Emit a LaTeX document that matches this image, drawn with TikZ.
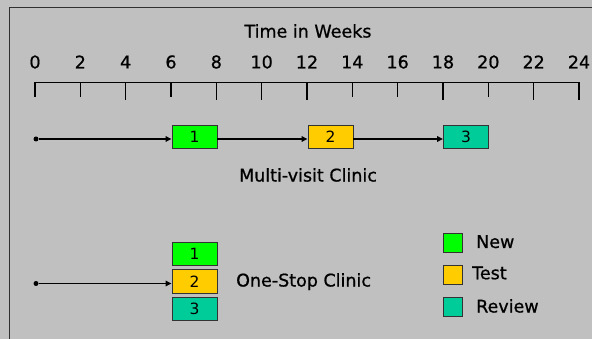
\documentclass[tikz,border=0pt]{standalone}
\usepackage{fontspec}
\setmainfont{DejaVu Sans}
\newfontfamily\heavy{DejaVu Sans}[FakeBold=0.8]
\usetikzlibrary{arrows.meta}
\definecolor{bg}{HTML}{C0C0C0}
\definecolor{cnew}{HTML}{00FF00}
\definecolor{ctest}{HTML}{FFCC00}
\definecolor{crev}{HTML}{00CC99}
\definecolor{frame}{HTML}{303030}
\tikzset{
  stage/.style={draw=black!80, line width=0.9pt, minimum width=45pt, minimum height=23.5pt, inner sep=0pt, font=\fontsize{15.5}{15.5}\selectfont},
  legbox/.style={draw=black!80, line width=0.9pt, minimum width=19pt, minimum height=19pt, inner sep=0pt},
  lbl/.style={font=\heavy\fontsize{17.5}{18}\selectfont, inner sep=0pt},
  flow/.style={line width=1.8pt, -{Triangle[length=6pt,width=5.5pt]}},
  dotnode/.style={circle, fill=black, inner sep=0pt, minimum size=5pt},
}
\begin{document}
\begin{tikzpicture}[x=1pt,y=-1pt]
\fill[bg] (0,0) rectangle (592,339);
\useasboundingbox (0,0) rectangle (592,339);
% frame
\draw[frame, line width=1.5pt] (9.5,339) -- (9.5,7.5) -- (592,7.5);
% title
\node[lbl] (title) at (308,31) {Time in Weeks};
% axis
\coordinate (ax0) at (35,82.5);
\coordinate (ax24) at (579,82.5);
\draw[line width=1.5pt] (ax0) -- (ax24);
\foreach \w/\len in {0/97,2/97,4/100,6/97,8/100,10/100,12/100,14/97,16/97,18/100,20/97,22/100,24/100}{
  \pgfmathsetmacro{\xx}{35+\w*22.667}
  \draw[line width=1.5pt] (\xx,82.5) -- (\xx,\len);
  \node[lbl] (n\w) at (\xx,62) {\w};
}
% multi-visit clinic
\node[dotnode] (s1) at (36,139) {};
\node[stage, fill=cnew] (m1) at (194.5,137) {1};
\node[stage, fill=ctest] (m2) at (330.5,137) {2};
\node[stage, fill=crev] (m3) at (466,137) {3};
\draw[flow] (s1) -- (s1 -| m1.west);
\draw[flow] (m1.east |- s1) -- (s1 -| m2.west);
\draw[flow] (m2.east |- s1) -- (s1 -| m3.west);
\node[lbl] (multi) at (308,175) {Multi-visit Clinic};
% one-stop clinic
\node[stage, fill=cnew] (o1) at (194.5,254) {1};
\node[stage, fill=ctest] (o2) at (194.5,281.7) {2};
\node[stage, fill=crev] (o3) at (194.5,309) {3};
\node[dotnode] (s2) at (36,283.5) {};
\draw[flow] (s2) -- (s2 -| o2.west);
\node[lbl, anchor=west] (onestop) at (236,281.7) {One-Stop Clinic};
% legend
\node[legbox, fill=cnew] (lg1) at (453,243) {};
\node[legbox, fill=ctest] (lg2) at (453,274.7) {};
\node[legbox, fill=crev] (lg3) at (453,307) {};
\node[lbl, anchor=west] (t1) at (476,241.7) {New};
\node[lbl, anchor=west] (t2) at (472,273) {Test};
\node[lbl, anchor=west] (t3) at (476,306) {Review};
\end{tikzpicture}
\end{document}
